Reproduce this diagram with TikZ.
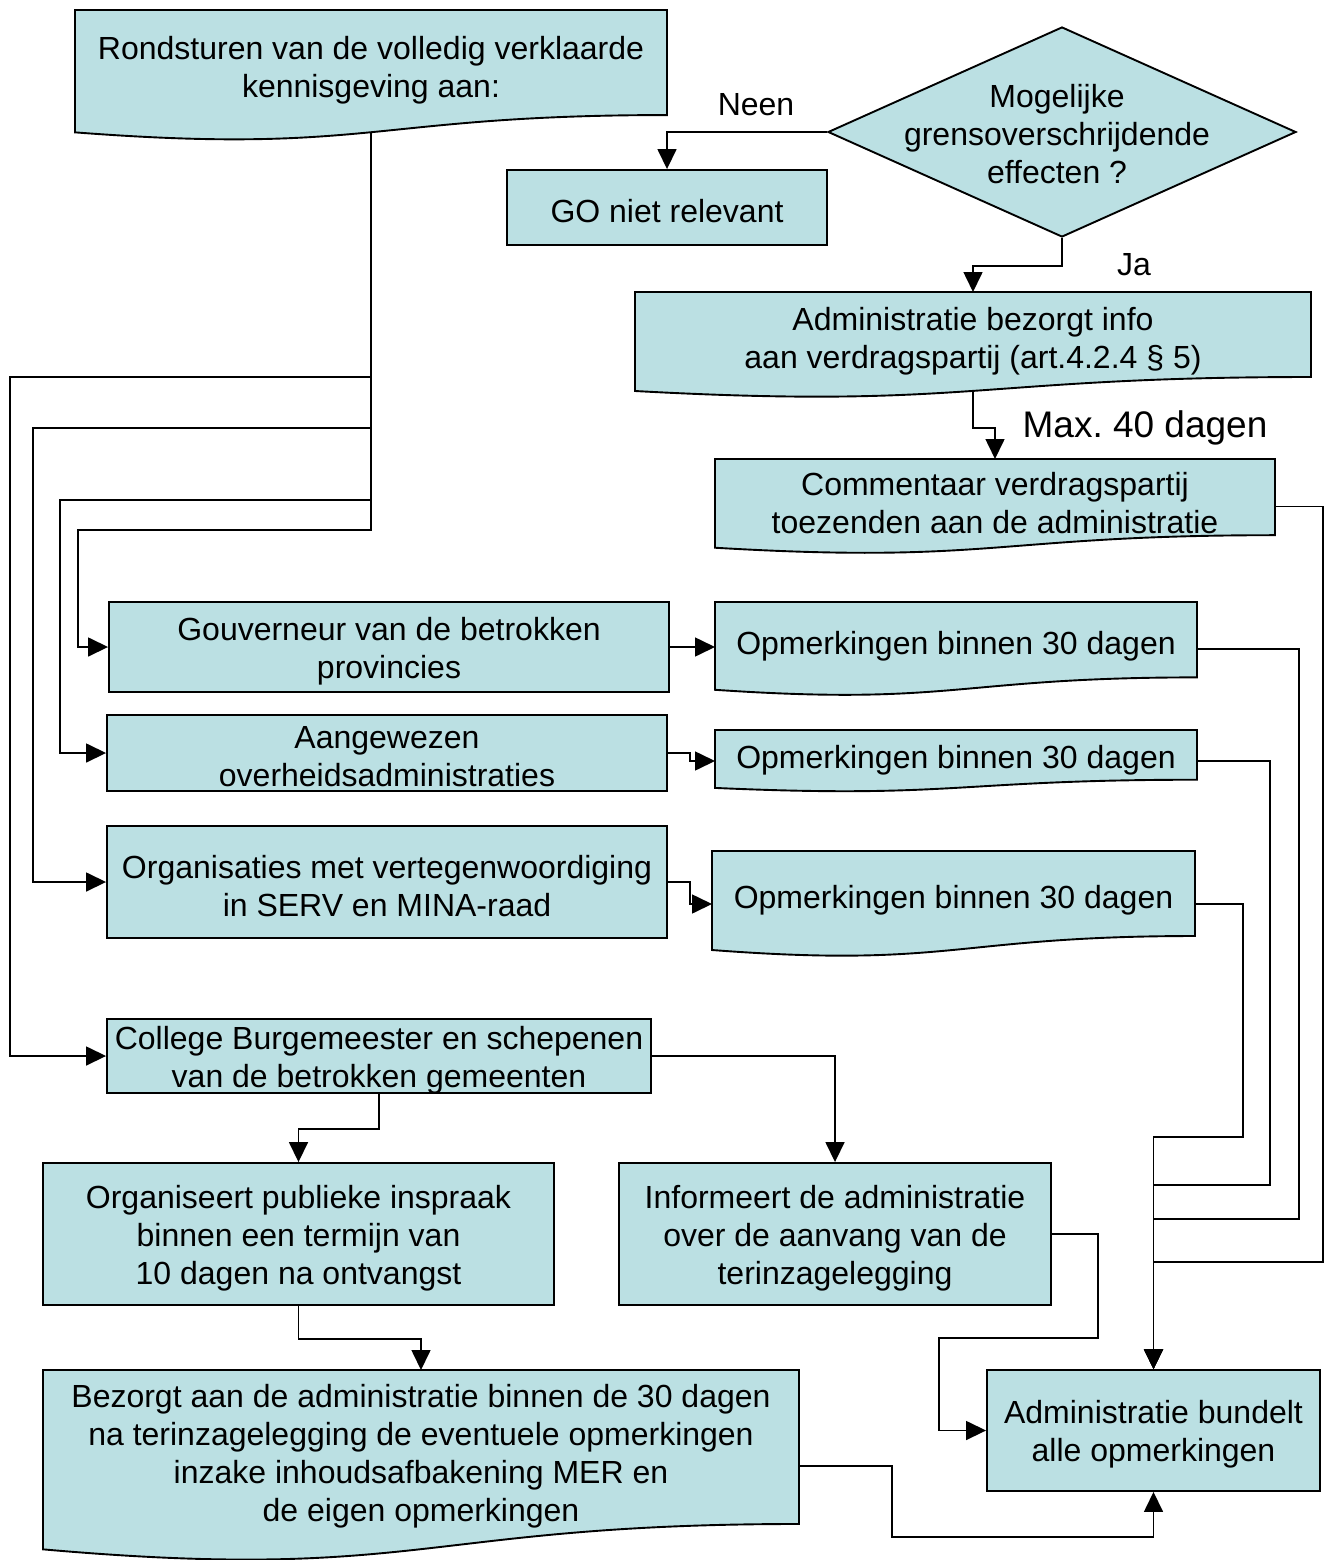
\documentclass[tikz,border=0pt]{standalone}
\usepackage{fontspec}
\setmainfont{Liberation Sans}
\usetikzlibrary{arrows.meta,shapes.geometric,backgrounds}
\definecolor{boxfill}{RGB}{187,224,227}
\frenchspacing
\tikzset{
 boxline/.style={draw=black, line width=1.9pt, fill=boxfill, line join=miter},
 box/.style={boxline, rectangle, inner sep=0pt},
 txt/.style={inner sep=0pt, font=\fontsize{32}{38}\selectfont, align=center},
 anchorbox/.style={rectangle, inner sep=0pt, outer sep=0pt},
 conn/.style={draw=black, line width=1.6pt},
 arr/.style={conn, -{Triangle[length=20pt,width=19pt]}},
}
% document shape: name, x0, y0, x1, full height, text
\newcommand\docbox[6]{%
 \pgfmathsetmacro\dA{#3+0.802*#5}%
 \pgfmathsetmacro\dB{#3+1.1075*#5}%
 \pgfmathsetmacro\dC{#3+0.934*#5}%
 \pgfmathsetmacro\dM{(#2+#4)/2}%
 \pgfmathsetmacro\dW{#4-#2}%
 \pgfmathsetmacro\dY{#3+0.5*#5}%
 \pgfmathsetmacro\dT{#3+0.43*#5+3.5}%
 \path[boxline] (#2,#3) -- (#4,#3) -- (#4,\dA) .. controls (\dM,\dA) and (\dM,\dB) .. (#2,\dC) -- cycle;
 \node[anchorbox, minimum width=\dW pt, minimum height=#5 pt] (#1) at (\dM,\dY) {};
 \node[txt] (#1t) at (\dM,\dT) {#6};
}
% rectangle: name, x0, y0, x1, y1, text
\newcommand\rectbox[6]{%
 \pgfmathsetmacro\rW{#4-#2}\pgfmathsetmacro\rH{#5-#3}%
 \pgfmathsetmacro\rX{(#2+#4)/2}\pgfmathsetmacro\rY{(#3+#5)/2}%
 \pgfmathsetmacro\rT{(#3+#5)/2+4}%
 \node[box, minimum width=\rW pt, minimum height=\rH pt] (#1) at (\rX,\rY) {};
 \node[txt] (#1t) at (\rX,\rT) {#6};
}
\begin{document}
\begin{tikzpicture}[x=1pt,y=-1pt]
\useasboundingbox (0,0) rectangle (1328,1560);

\docbox{b1}{75}{10}{667}{131}{Rondsturen van de volledig verklaarde\\kennisgeving aan:}
\node[diamond, boxline, minimum width=468pt, minimum height=210pt, inner sep=0pt, aspect=2.23] (dia) at (1062,132) {};
\node[txt] (diat) at (1057,134) {Mogelijke\\grensoverschrijdende\\effecten ?};
\rectbox{go}{507}{170}{827}{245}{GO niet relevant}
\docbox{adm}{635}{292}{1311}{106}{Administratie bezorgt info\\aan verdragspartij (art.4.2.4 § 5)}
\docbox{comm}{715}{459}{1275}{95}{Commentaar verdragspartij\\toezenden aan de administratie}
\rectbox{gov}{109}{602}{669}{692}{Gouverneur van de betrokken\\provincies}
\docbox{o1}{715}{602}{1197}{94}{Opmerkingen binnen 30 dagen}
\rectbox{aan}{107}{715}{667}{791}{Aangewezen\\overheidsadministraties}
\docbox{o2}{715}{730}{1197}{62}{Opmerkingen binnen 30 dagen}
\rectbox{org}{107}{826}{667}{938}{Organisaties met vertegenwoordiging\\in SERV en MINA-raad}
\docbox{o3}{712}{851}{1195}{106}{Opmerkingen binnen 30 dagen}
\rectbox{col}{107}{1019}{651}{1093}{College Burgemeester en schepenen\\van de betrokken gemeenten}
\rectbox{orgp}{43}{1163}{554}{1305}{Organiseert publieke inspraak\\binnen een termijn van\\10 dagen na ontvangst}
\rectbox{inf}{619}{1163}{1051}{1305}{Informeert de administratie\\over de aanvang van de\\terinzagelegging}
\rectbox{bund}{987}{1370}{1320}{1491}{Administratie bundelt\\alle opmerkingen}
\docbox{bez}{43}{1370}{799}{192}{Bezorgt aan de administratie binnen de 30 dagen\\na terinzagelegging de eventuele opmerkingen\\inzake inhoudsafbakening MER en\\de eigen opmerkingen}

\node[txt] (neen) at (756,105) {Neen};
\node[txt] (ja) at (1134,265) {Ja};
\node[txt, font=\fontsize{37}{44}\selectfont] (max) at (1145,428) {Max. 40 dagen};

\begin{pgfonlayer}{background}
\fill[white] (0,0) rectangle (1328,1560);
\draw[arr] (dia.west) -| (go.north);
\draw[arr] (dia.south) -- ++(0,28) -| (adm.north);
\draw[arr] (adm.center) |- (995,428) -- (comm.north);

\draw[arr] (b1.center) |- (10,377) |- (col.west);
\draw[arr] (b1.center) |- (33,428) |- (org.west);
\draw[arr] (b1.center) |- (60,500) |- (aan.west);
\draw[arr] (b1.center) |- (78,530) |- (gov.west);

\draw[arr] (gov.east) -- (gov.east -| o1.west);
\draw[arr] (aan.east) -| (690,761) -- (o2.west);
\draw[arr] (org.east) -| (690,904) -- (o3.west);

\draw[arr] (o1.east) -| (1299,1219) -| (bund.north);
\draw[arr] (o2.east) -| (1270,1185) -| (bund.north);
\draw[arr] (o3.east) -| (1243,1137) -| (bund.north);
\draw[arr] (comm.east) -| (1323,1262) -| (bund.north);

\draw[arr] (col.south) -- ++(0,35) -| (orgp.north);
\draw[arr] (col.east) -| (inf.north);
\draw[arr] (orgp.south) -- ++(0,33) -| (bez.north);
\draw[arr] (inf.east) -| (1098,1338) -| (939,1400) |- (bund.west);
\draw[arr] (bez.east) -| (892,1537) -| (bund.south);
\end{pgfonlayer}
\end{tikzpicture}
\end{document}
